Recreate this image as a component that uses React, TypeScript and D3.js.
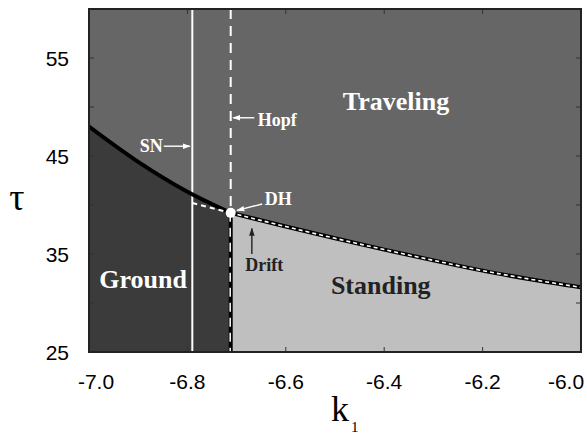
import * as d3 from "d3";

// boundary between travelling and stationary states (k1, tau)
const groundEdge: [number, number][] = [
  [-7.0, 48.0],
  [-6.9, 44.4],
  [-6.8, 41.35],
  [-6.712, 39.2],
];
const driftEdge: [number, number][] = [
  [-6.712, 39.2],
  [-6.6, 37.8],
  [-6.5, 36.6],
  [-6.4, 35.45],
  [-6.3, 34.35],
  [-6.2, 33.3],
  [-6.1, 32.4],
  [-6.0, 31.6],
];
const snK = -6.79;
const hopfK = -6.712;
const dh: [number, number] = [-6.712, 39.2];
const snToDh: [number, number][] = [
  [-6.79, 40.2],
  [-6.712, 39.2],
];

const xTicks = [-7.0, -6.8, -6.6, -6.4, -6.2, -6.0];
const yLabels = [25, 35, 45, 55];
const yTicks = [25, 30, 35, 40, 45, 50, 55, 60];

const regionLabels = [
  { text: "Traveling", k: -6.376, t: 50.6, color: "#ffffff" },
  { text: "Ground", k: -6.89, t: 32.35, color: "#ffffff" },
  { text: "Standing", k: -6.407, t: 31.8, color: "#222222" },
];

// arrows: from -> to, with label
const notes = [
  { text: "SN", tx: -6.85, tt: 46.0, anchor: "end", from: [-6.848, 46.0], to: [-6.795, 46.0], color: "#ffffff" },
  { text: "Hopf", tx: -6.657, tt: 48.7, anchor: "start", from: [-6.664, 48.9], to: [-6.707, 48.9], color: "#ffffff" },
  { text: "DH", tx: -6.643, tt: 40.6, anchor: "start", from: [-6.648, 40.1], to: [-6.699, 39.45], color: "#ffffff" },
  { text: "Drift", tx: -6.644, tt: 33.9, anchor: "middle", from: [-6.669, 35.0], to: [-6.669, 37.6], color: "#222222" },
];

const W = 587;
const H = 434;
const left = 89;
const right = 581;
const top = 9;
const bottom = 352;

export default function App() {
  const x = d3.scaleLinear().domain([-7, -6]).range([left, right]);
  const y = d3.scaleLinear().domain([25, 60]).range([bottom, top]);

  const area = d3
    .area<[number, number]>()
    .x((d) => x(d[0]))
    .y0(y(25))
    .y1((d) => y(d[1]))
    .curve(d3.curveMonotoneX);
  const line = d3
    .line<[number, number]>()
    .x((d) => x(d[0]))
    .y((d) => y(d[1]))
    .curve(d3.curveMonotoneX);
  const straight = d3
    .line<[number, number]>()
    .x((d) => x(d[0]))
    .y((d) => y(d[1]));

  const serif = "'Liberation Serif', 'Times New Roman', serif";
  const sans = "'Liberation Sans', Arial, sans-serif";

  return (
    <div style={{ position: "absolute", left: 0, top: 0 }}>
      <svg width={W} height={H} style={{ display: "block", background: "#fff" }}>
        <defs>
          <marker id="ahW" viewBox="0 0 10 10" refX="9" refY="5" markerWidth="8" markerHeight="8" orient="auto" markerUnits="userSpaceOnUse">
            <path d="M0,1.5 L10,5 L0,8.5 Z" fill="#ffffff" />
          </marker>
          <marker id="ahB" viewBox="0 0 10 10" refX="9" refY="5" markerWidth="8" markerHeight="8" orient="auto" markerUnits="userSpaceOnUse">
            <path d="M0,1.5 L10,5 L0,8.5 Z" fill="#222222" />
          </marker>
          <clipPath id="plot">
            <rect x={left} y={top} width={right - left} height={bottom - top} />
          </clipPath>
        </defs>

        <g clipPath="url(#plot)">
          <rect x={left} y={top} width={right - left} height={bottom - top} fill="#666666" />
          <path d={area(groundEdge) ?? ""} fill="#3b3b3b" />
          <path d={area(driftEdge) ?? ""} fill="#bfbfbf" />

          {/* SN line */}
          <line x1={x(snK)} x2={x(snK)} y1={y(60)} y2={y(25)} stroke="#fff" strokeWidth={2} />
          {/* Hopf line above DH */}
          <line x1={x(hopfK)} x2={x(hopfK)} y1={y(60)} y2={y(dh[1])} stroke="#fff" strokeWidth={2} strokeDasharray="10,7" />
          {/* Hopf line below DH */}
          <line x1={x(hopfK)} x2={x(hopfK)} y1={y(dh[1])} y2={y(25)} stroke="#000" strokeWidth={4} />
          <line x1={x(hopfK) - 0.5} x2={x(hopfK) - 0.5} y1={y(dh[1])} y2={y(25)} stroke="#fff" strokeWidth={1.5} strokeDasharray="9,6" />

          {/* boundary */}
          <path d={line(groundEdge) ?? ""} fill="none" stroke="#000" strokeWidth={4} />
          <path d={straight(snToDh) ?? ""} fill="none" stroke="#fff" strokeWidth={2} strokeDasharray="5,4" />
          <path d={line(driftEdge) ?? ""} fill="none" stroke="#000" strokeWidth={4} />
          <path d={line(driftEdge) ?? ""} fill="none" stroke="#fff" strokeWidth={1.6} strokeDasharray="4,3" />

          <circle cx={x(dh[0])} cy={y(dh[1])} r={5} fill="#fff" />
        </g>

        {regionLabels.map((r) => (
          <text
            key={r.text}
            x={x(r.k)}
            y={y(r.t)}
            textAnchor="middle"
            dominantBaseline="central"
            fontFamily={serif}
            fontWeight="bold"
            fontSize={26}
            fill={r.color}
          >
            {r.text}
          </text>
        ))}

        {notes.map((n) => (
          <g key={n.text}>
            <line
              x1={x(n.from[0])}
              y1={y(n.from[1])}
              x2={x(n.to[0])}
              y2={y(n.to[1])}
              stroke={n.color}
              strokeWidth={1.4}
              markerEnd={n.color === "#ffffff" ? "url(#ahW)" : "url(#ahB)"}
            />
            <text
              x={x(n.tx)}
              y={y(n.tt)}
              textAnchor={n.anchor}
              dominantBaseline="central"
              fontFamily={serif}
              fontWeight="bold"
              fontSize={18}
              fill={n.color}
            >
              {n.text}
            </text>
          </g>
        ))}

        {/* ticks */}
        {xTicks.map((v) => (
          <g key={"xt" + v}>
            <line x1={x(v)} x2={x(v)} y1={bottom} y2={bottom - 5} stroke="#333" strokeWidth={1} />
            <line x1={x(v)} x2={x(v)} y1={top} y2={top + 5} stroke="#333" strokeWidth={1} />
          </g>
        ))}
        {yTicks.map((v) => (
          <g key={"yt" + v}>
            <line x1={left} x2={left + 5} y1={y(v)} y2={y(v)} stroke="#333" strokeWidth={1} />
            <line x1={right} x2={right - 5} y1={y(v)} y2={y(v)} stroke="#333" strokeWidth={1} />
          </g>
        ))}
        <rect x={left} y={top} width={right - left} height={bottom - top} fill="none" stroke="#222" strokeWidth={2} />

        {xTicks.map((v) => (
          <text
            key={"xl" + v}
            x={Math.min(Math.max(x(v), 96), 566)}
            y={389}
            textAnchor="middle"
            fontFamily={sans}
            fontSize={21}
            fill="#000"
          >
            {d3.format(".1f")(v).replace("−", "-")}
          </text>
        ))}
        {yLabels.map((v) => (
          <text key={"yl" + v} x={69} y={y(v) + 8} textAnchor="end" fontFamily={sans} fontSize={21} fill="#000">
            {v}
          </text>
        ))}

        <text x={17} y={210} textAnchor="middle" fontFamily={serif} fontSize={38} fill="#000">
          τ
        </text>
        <text x={331} y={421} fontFamily={serif} fontSize={36} fill="#000">
          k
        </text>
        <text x={351} y={432} fontFamily={serif} fontSize={15} fill="#000">
          1
        </text>
      </svg>
    </div>
  );
}
